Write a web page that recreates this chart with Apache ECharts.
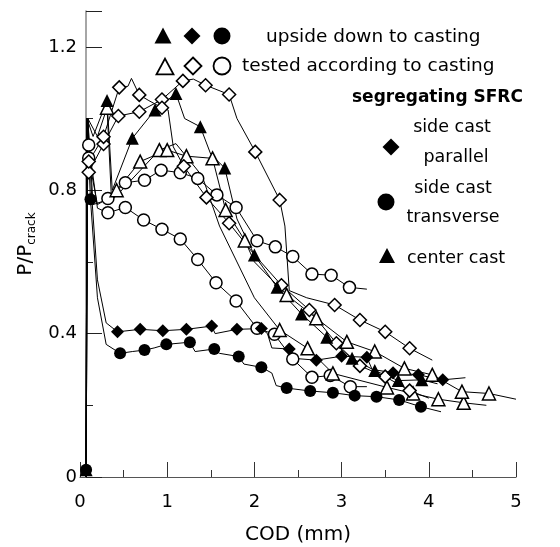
<!DOCTYPE html>
<html><head><meta charset="utf-8">
<script src="https://cdn.jsdelivr.net/npm/echarts@6/dist/echarts.min.js"></script>
<style>html,body{margin:0;padding:0;background:#fff}#c{width:560px;height:547px}</style>
</head><body><div id="c"></div>
<script>
// [x (COD mm), y (P/Pcrack), marker shown 1/0]
const fillCircle = [[0.07,0.02,1],[0.08,1.0,0],[0.12,0.775,1],[0.2,0.5,0],[0.3,0.37,0],[0.46,0.345,1],[0.6,0.35,0],[0.74,0.354,1],[0.85,0.36,0],[0.99,0.37,1],[1.26,0.376,1],[1.32,0.35,0],[1.54,0.357,1],[1.6,0.345,0],[1.82,0.336,1],[1.88,0.315,0],[2.08,0.306,1],[2.2,0.29,0],[2.25,0.255,0],[2.37,0.248,1],[2.64,0.24,1],[2.90,0.235,1],[3.15,0.227,1],[3.40,0.224,1],[3.66,0.215,1],[3.91,0.196,1],[4.14,0.182,0]];
const fillDiamond = [[0.07,0,0],[0.09,1.0,0],[0.13,0.8,0],[0.2,0.55,0],[0.3,0.43,0],[0.43,0.405,1],[0.69,0.412,1],[0.95,0.408,1],[1.22,0.412,1],[1.51,0.421,1],[1.55,0.40,0],[1.80,0.412,1],[2.08,0.414,1],[2.15,0.40,0],[2.2,0.36,0],[2.40,0.357,1],[2.5,0.33,0],[2.71,0.326,1],[3.0,0.337,1],[3.29,0.334,1],[3.35,0.30,0],[3.59,0.291,1],[3.88,0.285,1],[4.16,0.271,1],[4.42,0.277,0]];
const fillTriangle = [[0.07,0.02,1],[0.08,1.0,0],[0.15,0.95,0],[0.31,1.05,1],[0.37,0.80,0],[0.60,0.945,1],[0.86,1.024,1],[1.10,1.07,1],[1.2,1.0,0],[1.38,0.977,1],[1.5,0.9,0],[1.66,0.862,1],[1.8,0.72,0],[2.0,0.619,1],[2.26,0.529,1],[2.54,0.455,1],[2.83,0.39,1],[3.12,0.331,1],[3.38,0.297,1],[3.65,0.269,1],[3.92,0.271,1],[4.1,0.26,0]];
const openDiamondA = [[0.07,0,0],[0.08,1.0,0],[0.1,0.88,1],[0.27,0.949,1],[0.45,1.087,1],[0.55,1.09,0],[0.59,1.112,0],[0.68,1.066,1],[0.79,1.05,0],[0.94,1.03,1],[1.01,1.024,0],[1.07,0.921,0],[1.19,0.867,1],[1.45,0.78,1],[1.71,0.708,1],[2.0,0.62,0],[2.31,0.535,1],[2.63,0.466,1],[2.94,0.373,1],[3.21,0.31,1],[3.5,0.28,1],[3.78,0.241,1],[4.0,0.22,0]];
const openDiamondB = [[0.07,0,0],[0.08,1.0,0],[0.1,0.85,1],[0.27,0.929,1],[0.44,1.007,1],[0.68,1.019,1],[0.94,1.053,1],[1.18,1.105,1],[1.3,1.11,0],[1.44,1.093,1],[1.71,1.067,1],[1.8,1.0,0],[2.01,0.907,1],[2.29,0.773,1],[2.35,0.7,0],[2.4,0.52,0],[2.6,0.5,0],[2.92,0.48,1],[3.21,0.438,1],[3.50,0.405,1],[3.78,0.359,1],[4.04,0.326,0]];
const openCircleA = [[0.07,0,0],[0.08,1.0,0],[0.1,0.926,1],[0.2,0.75,0],[0.32,0.737,1],[0.52,0.752,1],[0.73,0.717,1],[0.94,0.691,1],[1.15,0.664,1],[1.35,0.607,1],[1.56,0.542,1],[1.79,0.491,1],[2.03,0.415,1],[2.23,0.398,1],[2.44,0.329,1],[2.66,0.278,1],[2.87,0.283,1],[3.10,0.252,1],[3.29,0.252,0]];
const openCircleB = [[0.07,0,0],[0.08,1.0,0],[0.1,0.89,1],[0.2,0.76,0],[0.32,0.777,1],[0.52,0.821,1],[0.74,0.828,1],[0.93,0.856,1],[1.15,0.849,1],[1.35,0.833,1],[1.57,0.787,1],[1.79,0.752,1],[2.03,0.659,1],[2.24,0.642,1],[2.44,0.615,1],[2.66,0.566,1],[2.88,0.563,1],[3.09,0.529,1],[3.29,0.524,0]];
const openTriangleA = [[0.07,0,0],[0.09,1.0,0],[0.2,0.95,0],[0.31,1.03,1],[0.36,0.78,0],[0.42,0.80,1],[0.69,0.88,1],[1.0,0.912,1],[1.22,0.895,1],[1.52,0.889,1],[1.67,0.745,1],[1.89,0.66,1],[2.0,0.6,0],[2.37,0.508,1],[2.71,0.443,1],[3.06,0.377,1],[3.38,0.35,1],[3.72,0.303,1],[4.04,0.285,1],[4.38,0.238,1],[4.69,0.233,1],[5.0,0.217,0]];
const openTriangleB = [[0.07,0,0],[0.09,1.0,0],[0.15,0.76,0],[0.4,0.78,0],[0.91,0.912,1],[1.1,0.93,0],[1.4,0.84,0],[1.6,0.7,0],[2.0,0.5,0],[2.29,0.41,1],[2.61,0.359,1],[2.90,0.289,1],[3.2,0.27,0],[3.52,0.25,1],[3.82,0.233,1],[4.11,0.217,1],[4.40,0.207,1],[4.66,0.2,0]];

const xTicks = [0,1,2,3,4,5];
const yTicks = [0,0.4,0.8,1.2];
const legendRow1 = 'upside down to casting';
const legendRow2 = 'tested according to casting';
const legendHead = 'segregating SFRC';
const labSideCast = 'side cast';
const labParallel = 'parallel';
const labTransverse = 'transverse';
const labCenter = 'center cast';

const FONT = "'DejaVu Sans', sans-serif";
const curves = [
  {d: openCircleB, sym:'circle', fill:false},
  {d: openCircleA, sym:'circle', fill:false},
  {d: openTriangleB, sym:'triangle', fill:false},
  {d: openTriangleA, sym:'triangle', fill:false},
  {d: openDiamondB, sym:'diamond', fill:false},
  {d: openDiamondA, sym:'diamond', fill:false},
  {d: fillTriangle, sym:'triangle', fill:true},
  {d: fillDiamond, sym:'diamond', fill:true},
  {d: fillCircle, sym:'circle', fill:true}
];
const series = curves.map(c => ({
  type:'line', animation:false, showSymbol:true, showAllSymbol:true,
  symbolSize: c.sym==='circle'?12:13,
  data: c.d.map(p => ({value:[p[0],p[1]], symbol: p[2]? c.sym : 'none'})),
  lineStyle:{color:'#000', width:1},
  itemStyle: c.fill ? {color:'#000', borderColor:'#000', borderWidth:0} : {color:'#fff', borderColor:'#000', borderWidth:1.5},
  emphasis:{disabled:true}
}));

function tri(cx,cy,s,fill){const h=s*0.87;return {type:'polygon',shape:{points:[[cx,cy-h/2-1],[cx+s/2,cy+h/2],[cx-s/2,cy+h/2]]},style:{fill:fill?'#000':'#fff',stroke:'#000',lineWidth:fill?0:1.8}};}
function dia(cx,cy,s,fill){return {type:'polygon',shape:{points:[[cx,cy-s/2],[cx+s/2,cy],[cx,cy+s/2],[cx-s/2,cy]]},style:{fill:fill?'#000':'#fff',stroke:'#000',lineWidth:fill?0:1.8}};}
function circ(cx,cy,r,fill){return {type:'circle',shape:{cx:cx,cy:cy,r:r},style:{fill:fill?'#000':'#fff',stroke:'#000',lineWidth:fill?0:1.8}};}
function txt(x,y,t,size,align,bold){return {type:'text',x:x,y:y,style:{text:t,fontFamily:FONT,fontSize:size,fontWeight:bold?'bold':'normal',fill:'#000',align:align||'left',verticalAlign:'middle'}};}

const chart = echarts.init(document.getElementById('c'), null, {renderer:'canvas'});
chart.setOption({
  animation:false,
  backgroundColor:'#fff',
  grid:{left:80, right:44, top:11, bottom:70, containLabel:false, outerBoundsMode:'none'},
  xAxis:{type:'value', min:0, max:5, interval:1,
    axisLine:{lineStyle:{color:'#555', width:1.2}},
    axisTick:{inside:true, length:15, lineStyle:{color:'#333'}},
    minorTick:{show:true, splitNumber:2, length:7, lineStyle:{color:'#333'}},
    splitLine:{show:false},
    axisLabel:{fontFamily:FONT, fontSize:18, color:'#000', margin:16, formatter:v=>xTicks.includes(v)?String(v):''},
    name:'COD (mm)', nameLocation:'middle', nameGap:48, nameTextStyle:{fontFamily:FONT, fontSize:20, color:'#000'}
  },
  yAxis:{type:'value', min:0, max:1.3, interval:0.4, offset:-6,
    axisLine:{show:true, lineStyle:{color:'#888', width:1.5}},
    axisTick:{inside:true, length:16, lineStyle:{color:'#222'}},
    minorTick:{show:true, splitNumber:2, length:7, lineStyle:{color:'#222'}},
    splitLine:{show:false},
    axisLabel:{fontFamily:FONT, fontSize:18, color:'#000', margin:9, showMaxLabel:false,
      formatter:v=>{const f=yTicks.find(t=>Math.abs(t-v)<1e-6);return f===undefined?'':(f===0?'0':f.toFixed(1));}},
    name:'P/P{s|crack}', nameLocation:'middle', nameGap:48, nameRotate:90,
    nameTextStyle:{fontFamily:FONT, fontSize:20, color:'#000', rich:{s:{fontFamily:FONT, fontSize:12, color:'#000', padding:[12,0,0,0]}}}
  },
  graphic:[
    tri(163,36,17,true), dia(192,36,17,true), circ(222,36,8.5,true),
    tri(165,67,17,false), dia(193,66,17,false), circ(222,66,8.5,false),
    txt(266,37,legendRow1,18.5), txt(242,66,legendRow2,18.5),
    txt(352,98,legendHead,17,'left',true),
    txt(452,127,labSideCast,17.5,'center'),
    dia(391,147,17,true), txt(456,157,labParallel,17.5,'center'),
    txt(453,188,labSideCast,17.5,'center'),
    circ(386,202,8.5,true), txt(453,217,labTransverse,17.5,'center'),
    tri(387,256,16,true), txt(407,258,labCenter,17.5,'left')
  ],
  series: series
});
</script></body></html>
